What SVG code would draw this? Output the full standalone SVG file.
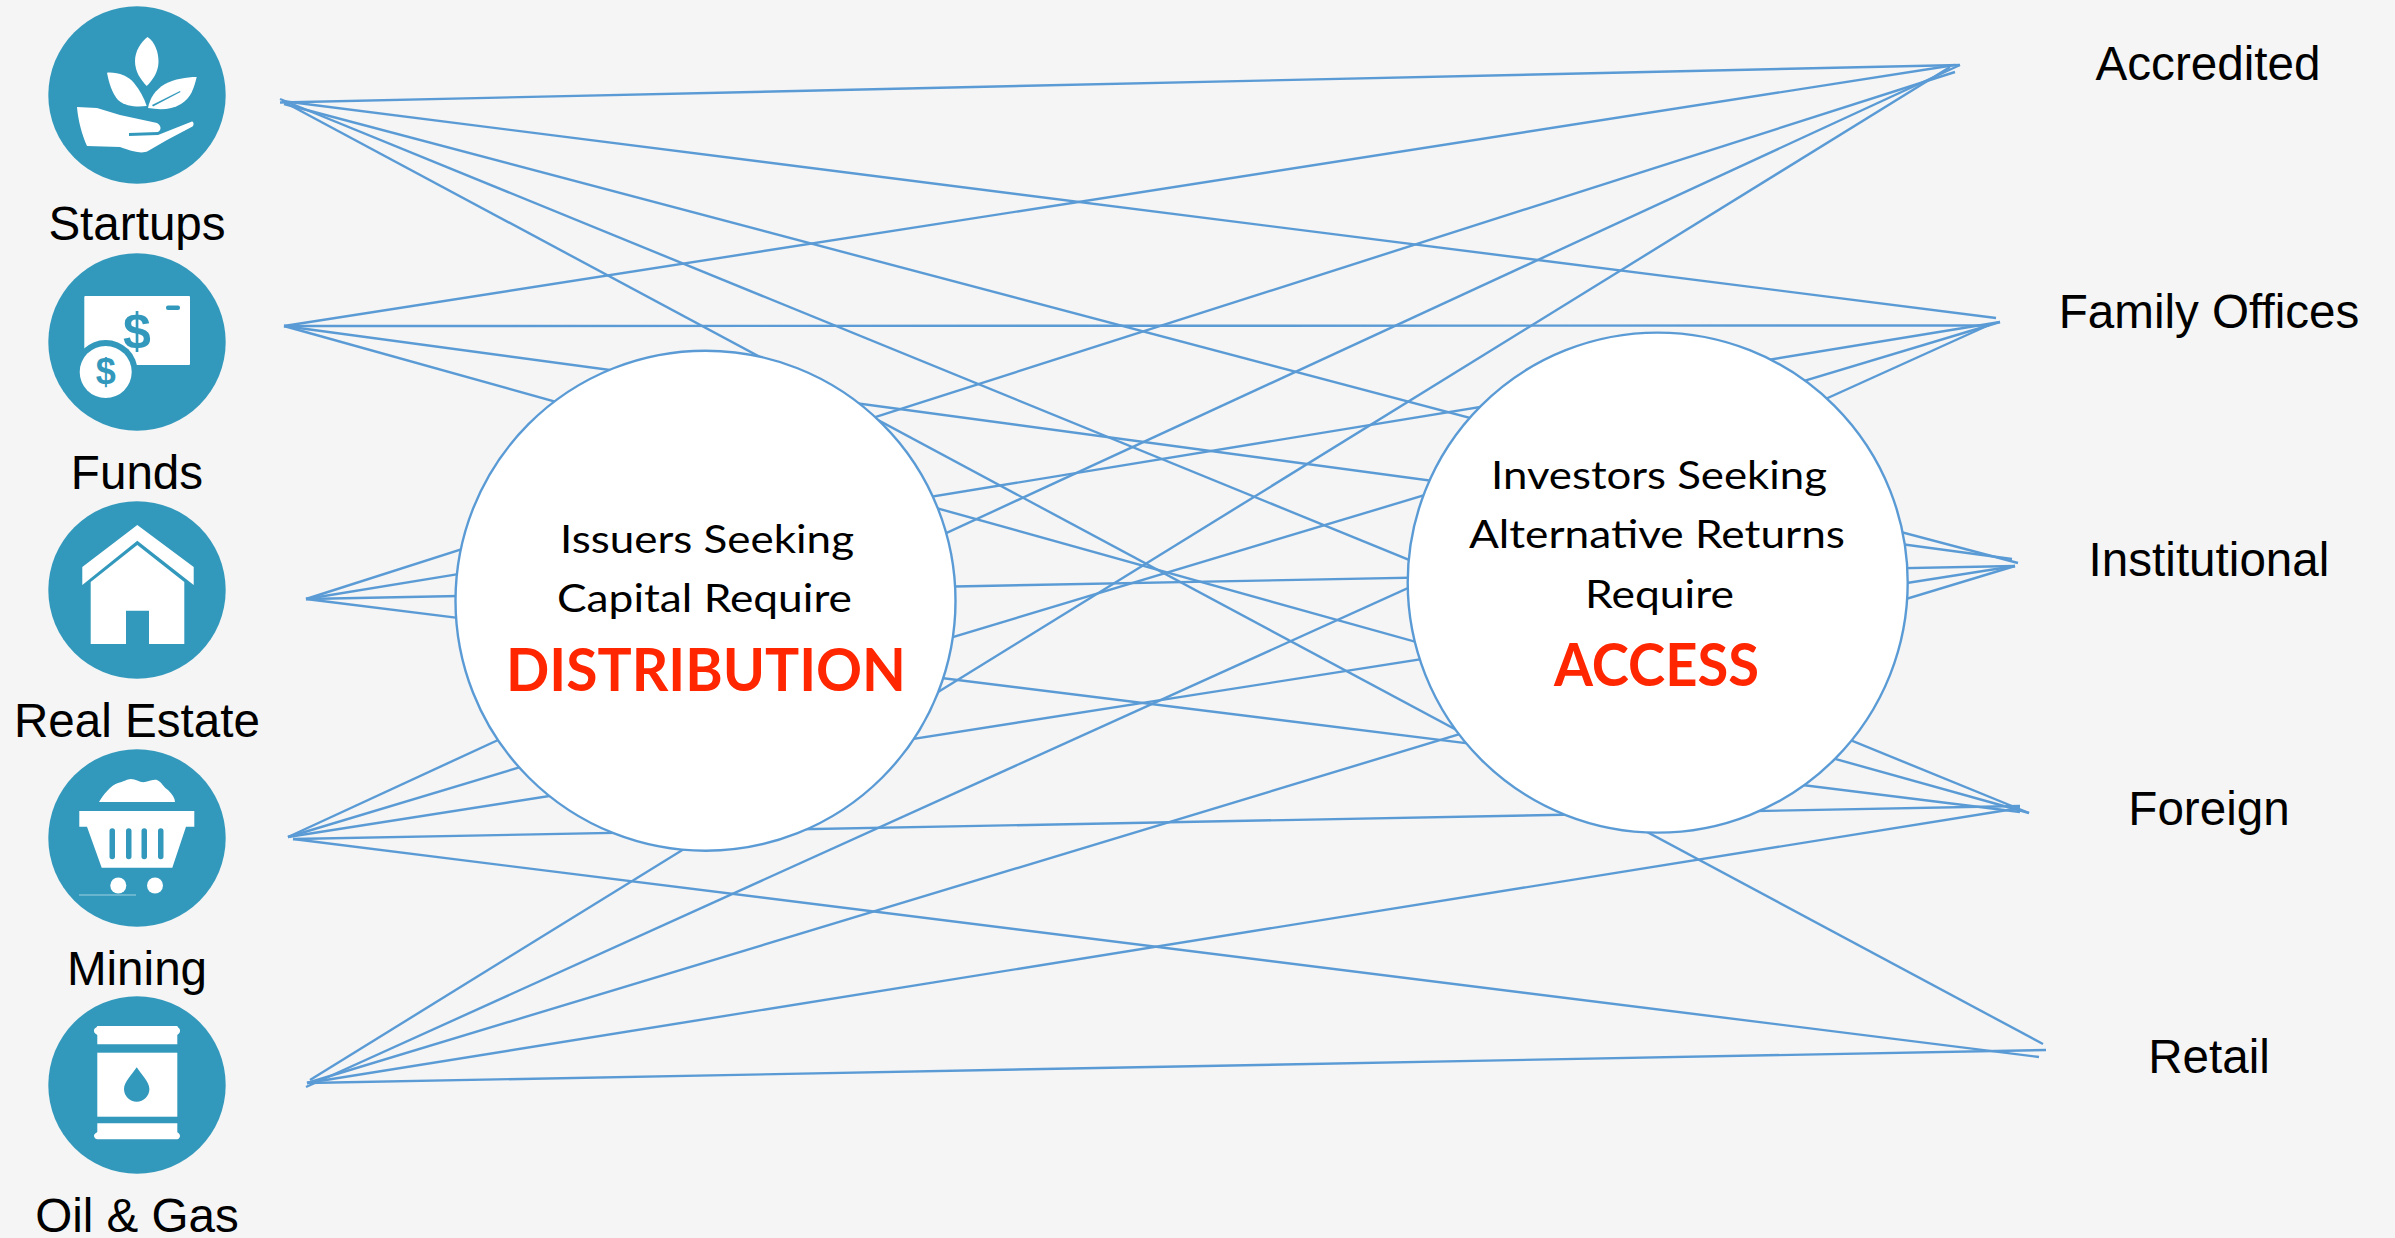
<svg xmlns="http://www.w3.org/2000/svg" width="2395" height="1238" viewBox="0 0 2395 1238">
<style>
.bg{fill:#f5f5f5}
.ic{fill:#3399bc}
.w{fill:#fff}
.t{fill:#3399bc}
.lb{font-family:"Liberation Sans",Arial,sans-serif;font-size:47.6px;fill:#000;text-anchor:middle}
.cn line{stroke:#5b9bd5;stroke-width:2.4;fill:none}
.big{fill:#fff;stroke:#5b9bd5;stroke-width:2.4}
.body{font-family:Lato,"Open Sans",sans-serif;font-size:39px;fill:#000}
.head{font-family:Lato,"Open Sans",sans-serif;font-size:59px;font-weight:700;fill:#ff2600}
.dl{font-family:"Liberation Sans",Arial,sans-serif;font-weight:700;fill:#3399bc;text-anchor:middle}
</style>
<rect class="bg" width="2395" height="1238"/>
<g id="connectors" class="cn">
<line x1="280" y1="102.5" x2="1960" y2="65"/>
<line x1="282" y1="101" x2="1996" y2="318"/>
<line x1="284" y1="104" x2="2018" y2="563"/>
<line x1="280" y1="99" x2="2029" y2="813"/>
<line x1="284" y1="102" x2="2043" y2="1044"/>
<line x1="284" y1="326" x2="1955" y2="65"/>
<line x1="284" y1="326" x2="1989" y2="325.5"/>
<line x1="284" y1="326" x2="2012" y2="559"/>
<line x1="284" y1="326" x2="2029" y2="813"/>
<line x1="306" y1="599" x2="1955" y2="72"/>
<line x1="306" y1="599" x2="2000" y2="322"/>
<line x1="306" y1="599" x2="2015" y2="566"/>
<line x1="306" y1="599" x2="2020" y2="812"/>
<line x1="288" y1="837" x2="1960" y2="65"/>
<line x1="288" y1="837" x2="2000" y2="322"/>
<line x1="288" y1="837" x2="2015" y2="566"/>
<line x1="293" y1="839" x2="2020" y2="806"/>
<line x1="293" y1="839" x2="2039" y2="1057"/>
<line x1="310" y1="1080" x2="1950" y2="67"/>
<line x1="306" y1="1087" x2="1989" y2="325"/>
<line x1="307" y1="1083" x2="2015" y2="566"/>
<line x1="307" y1="1083" x2="2020" y2="808"/>
<line x1="307" y1="1083" x2="2046" y2="1050"/>
</g>
<g id="node-startups">
<circle class="ic" cx="137" cy="95" r="88.7"/>
<path class="w" d="M147.5 37C155 42 158.5 52 158.5 62C158.5 72 152 81 146.7 86C141 80 135 72 135 61C135 51 141 42 147.5 37Z"/>
<path class="w" d="M107 72.7C118 72 128 76 134 83C140 90 144 98 146.7 106C138 107 126 107 118 100C112 93 109 83 107 72.7Z"/>
<path class="w" d="M196.7 77C194 88 191 98 181 104C171 110 160 110 148 108C150 98 155 90 165 84C175 79 186 77 196.7 77Z"/>
<path class="t" d="M152 105L180 91L180.5 92L153 106.5Z"/>
<path class="w" d="M77 107L97 108L120 115L157 123C161 125 162 130 158 132L129 133V136L158 135L192 121.5C194 122 194 125 192.5 126.5L167 140L148 151C142 154 134 152 120 147L87 146C82 135 78 120 77 107Z"/>
<text class="lb" x="137" y="240">Startups</text>
</g>
<g id="node-funds">
<circle class="ic" cx="137" cy="342" r="88.7"/>
<rect class="w" x="84.3" y="296" width="105.7" height="69" rx="1"/>
<rect class="t" x="166" y="305.5" width="14" height="4.5" rx="2"/>
<text class="dl" x="137" y="348" font-size="50">$</text>
<circle class="ic" cx="105.7" cy="372" r="32"/>
<circle class="w" cx="105.7" cy="372" r="26"/>
<text class="dl" x="105.7" y="384.4" font-size="36">$</text>
<text class="lb" x="137" y="488.5">Funds</text>
</g>
<g id="node-real-estate">
<circle class="ic" cx="137" cy="590" r="88.7"/>
<path class="w" d="M137.3 525L193.7 567V585L137.3 540.7L82.3 585V567Z"/>
<path class="w" d="M137.3 545L184.3 582V644H149V610.7H126V644H90.7V582Z"/>
<text class="lb" x="137" y="737">Real Estate</text>
</g>
<g id="node-mining">
<circle class="ic" cx="137" cy="838" r="88.7"/>
<path class="w" d="M99 802C104 794 110 786 118 783C123 782 127 779 131 779C136 779 140 783 145 782C150 781 154 779 157 780C162 782 163 787 168 790C172 794 175 798 175 802Z"/>
<path class="w" d="M79.3 811H194.3V826.7H186L172.3 867.7H101.7L87 826.7H79.3Z"/>
<g class="t">
<rect x="109.5" y="828.3" width="5.5" height="31" rx="2.7"/>
<rect x="126" y="828.3" width="5.5" height="31" rx="2.7"/>
<rect x="141.5" y="828.3" width="5.5" height="31" rx="2.7"/>
<rect x="158" y="828.3" width="5.5" height="31" rx="2.7"/>
</g>
<circle class="w" cx="118.3" cy="885.5" r="8"/>
<circle class="w" cx="155" cy="885.5" r="8"/>
<rect x="79" y="894.5" width="57" height="1" fill="#9fd0e0"/>
<text class="lb" x="137" y="985">Mining</text>
</g>
<g id="node-oil-gas">
<circle class="ic" cx="137" cy="1085" r="88.7"/>
<path class="w" d="M97.3 1026H177.3C178 1028 180 1028 180 1030.7C180 1033.5 178 1034 177.3 1035V1044.3H97.3V1035C96.5 1034 94 1033.5 94 1030.7C94 1028 96.5 1028 97.3 1026Z"/>
<rect class="w" x="97.3" y="1052.7" width="80" height="64"/>
<path class="w" d="M97.3 1123.3H177.3V1132C178 1133 180 1133.5 180 1136C180 1138 178 1139.3 177.3 1139.3H97.3C96.5 1139.3 94 1138 94 1136C94 1133.5 96.5 1133 97.3 1132Z"/>
<path class="t" d="M136.7 1067.3C141 1074 149.4 1082 149.4 1089C149.4 1096 143.7 1101.7 136.7 1101.7C129.7 1101.7 124 1096 124 1089C124 1082 132.4 1074 136.7 1067.3Z"/>
<text class="lb" x="137" y="1232">Oil &amp; Gas</text>
</g>
<g id="node-accredited"><text class="lb" x="2208" y="80">Accredited</text></g>
<g id="node-family-offices"><text class="lb" x="2209" y="328">Family Offices</text></g>
<g id="node-institutional"><text class="lb" x="2209" y="576">Institutional</text></g>
<g id="node-foreign"><text class="lb" x="2209" y="824.5">Foreign</text></g>
<g id="node-retail"><text class="lb" x="2209" y="1072.5">Retail</text></g>
<g id="node-distribution">
<circle class="big" cx="705.5" cy="600.7" r="250"/>
<text class="body" x="560" y="553" textLength="294" lengthAdjust="spacingAndGlyphs">Issuers Seeking</text>
<text class="body" x="557" y="612" textLength="295" lengthAdjust="spacingAndGlyphs">Capital Require</text>
<text class="head" x="506" y="691" textLength="400" lengthAdjust="spacingAndGlyphs">DISTRIBUTION</text>
</g>
<g id="node-access">
<circle class="big" cx="1657.7" cy="582.6" r="250"/>
<text class="body" x="1491" y="489" textLength="336" lengthAdjust="spacingAndGlyphs">Investors Seeking</text>
<text class="body" x="1469" y="548" textLength="376" lengthAdjust="spacingAndGlyphs">Alternative Returns</text>
<text class="body" x="1585" y="607.5" textLength="149" lengthAdjust="spacingAndGlyphs">Require</text>
<text class="head" x="1554" y="686" textLength="205" lengthAdjust="spacingAndGlyphs">ACCESS</text>
</g>
</svg>
